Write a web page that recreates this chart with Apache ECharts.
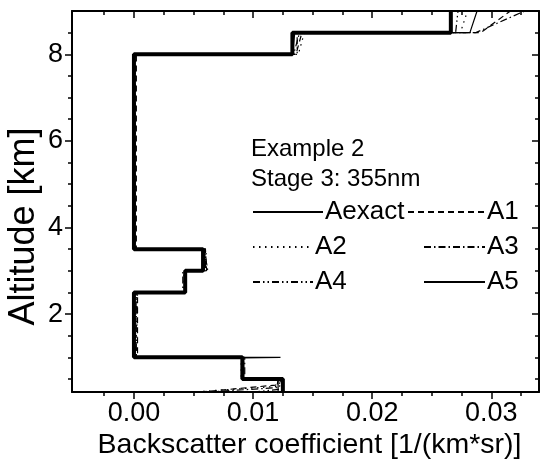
<!DOCTYPE html>
<html>
<head>
<meta charset="utf-8">
<script src="https://cdn.jsdelivr.net/npm/echarts@6/dist/echarts.min.js"></script>
<style>
  html, body { margin: 0; padding: 0; background: #fff; }
  #chart { width: 554px; height: 468px; }
</style>
</head>
<body>
<div id="chart"></div>
<script>
// Layer boundaries [km] and exact backscatter per layer [1/(km*sr)]
const layerEdges = [0.2, 0.5, 1.0, 2.5, 3.0, 3.5, 8.0, 8.5, 9.0];
const aexactValues = [0.0125, 0.0091, 0.0, 0.0043, 0.0058, 0.0, 0.0133, 0.0266];

// Retrieved profiles, [backscatter, altitude] pairs
const a1Points = [[0.0056,0.2],[0.0119,0.36],[0.0122,0.5],[0.0092,0.5],[0.0092,1.0],[0.0003,1.0],[0.0003,2.5],[0.0044,2.5],[0.0044,3.0],[0.0061,3.0],[0.0060,3.5],[0.0002,3.5],[0.0002,8.0],[0.0136,8.0],[0.0141,8.5],[0.0291,8.5],[0.0316,9.0]];
const a2Points = [[0.0048,0.2],[0.0121,0.33],[0.0124,0.5],[0.0090,0.5],[0.0090,1.0],[0.0002,1.0],[0.0003,2.5],[0.0042,2.5],[0.0042,3.0],[0.0059,3.0],[0.0061,3.5],[0.0001,3.5],[0.0001,8.0],[0.0138,8.0],[0.0143,8.5],[0.0274,8.5],[0.0280,9.0]];
const a3Points = [[0.0062,0.2],[0.0120,0.3],[0.0121,0.5],[0.0093,0.5],[0.0093,1.0],[0.0001,1.0],[0.0002,2.5],[0.0043,2.5],[0.0043,3.0],[0.0062,3.0],[0.0059,3.5],[0.0,3.5],[0.0,8.0],[0.0134,8.0],[0.0139,8.5],[0.0287,8.5],[0.0328,9.0]];
const a4Points = [[0.0100,0.2],[0.0122,0.26],[0.0123,0.5],[0.0091,0.5],[0.0091,1.0],[0.0002,1.0],[0.0002,2.5],[0.0041,2.5],[0.0041,3.0],[0.0060,3.0],[0.0060,3.5],[0.0001,3.5],[0.0001,8.0],[0.0137,8.0],[0.0137,8.5],[0.0270,8.5],[0.0272,9.0]];
const a5Points = [[0.0121,0.2],[0.0121,0.5],[0.0092,0.5],[0.0092,0.99],[0.0123,1.0],[0.0,1.0],[0.0,2.5],[0.0043,2.5],[0.0043,3.0],[0.0058,3.0],[0.0058,3.5],[0.0,3.5],[0.0,8.0],[0.0133,8.0],[0.0135,8.5],[0.0282,8.5],[0.0288,9.0]];

// Axis ranges and ticks
const xRange = [-0.0052, 0.034];
const yRange = [0.2, 9.0];
const xMajorTicks = [0.0, 0.01, 0.02, 0.03];
const xMinorTicks = [-0.0025, 0.0025, 0.005, 0.0075, 0.0125, 0.015, 0.0175, 0.0225, 0.025, 0.0275, 0.0325];
const yMajorTicks = [2, 4, 6, 8];
const yMinorTicks = [0.5, 1, 1.5, 2.5, 3, 3.5, 4.5, 5, 5.5, 6.5, 7, 7.5, 8.5];

const FONT = '"Liberation Sans", Arial, Helvetica, sans-serif';
const INK = '#000';

function stepProfile(edges, values) {
  const pts = [];
  for (let i = 0; i < values.length; i++) {
    pts.push([values[i], edges[i]], [values[i], edges[i + 1]]);
  }
  return pts;
}

function xAxisDef(position, ticks, len, inside, withLine, main) {
  return {
    type: 'value', min: xRange[0], max: xRange[1], position: position,
    axisLine: { show: withLine, onZero: false, lineStyle: { color: INK, width: 2 } },
    splitLine: { show: false },
    axisTick: { show: true, inside: inside, length: len, customValues: ticks, lineStyle: { color: INK, width: 1.5 } },
    axisLabel: main ? { show: true, customValues: ticks, formatter: v => v.toFixed(2), fontSize: 27, color: INK, fontFamily: FONT, margin: 8 } : { show: false },
    name: main ? 'Backscatter coefficient [1/(km*sr)]' : '',
    nameLocation: 'middle', nameGap: 39, nameMoveOverlap: false,
    nameTextStyle: { fontSize: 28.5, color: INK, fontFamily: FONT, padding: [0, 0, 0, 8] }
  };
}

function yAxisDef(position, ticks, len, inside, withLine, main) {
  return {
    type: 'value', min: yRange[0], max: yRange[1], position: position,
    axisLine: { show: withLine, onZero: false, lineStyle: { color: INK, width: 2 } },
    splitLine: { show: false },
    axisTick: { show: true, inside: inside, length: len, customValues: ticks, lineStyle: { color: INK, width: 1.5 } },
    axisLabel: main ? { show: true, customValues: ticks, fontSize: 27, color: INK, fontFamily: FONT, margin: 9 } : { show: false },
    name: main ? 'Altitude [km]' : '',
    nameLocation: 'middle', nameGap: 30, nameMoveOverlap: false,
    nameTextStyle: { fontSize: 36, color: INK, fontFamily: FONT, padding: [0, 50, 0, 0] }
  };
}

const series = [
  { name: 'Aexact', data: stepProfile(layerEdges, aexactValues), lineStyle: { width: 4, type: 'solid' } },
  { name: 'A1', data: a1Points, lineStyle: { width: 1.2, type: [6, 4] } },
  { name: 'A2', data: a2Points, lineStyle: { width: 1.2, type: [1.5, 4.5] } },
  { name: 'A3', data: a3Points, lineStyle: { width: 1.2, type: [7, 3, 1.5, 3] } },
  { name: 'A4', data: a4Points, lineStyle: { width: 1.2, type: [7, 3, 1.5, 3, 1.5, 3] } },
  { name: 'A5', data: a5Points, lineStyle: { width: 1.2, type: 'solid' } }
].map(s => Object.assign({
  type: 'line', symbol: 'none', showSymbol: false, smooth: false,
  color: INK, animation: false, silent: true, clip: true
}, s, { lineStyle: Object.assign({ color: INK }, s.lineStyle) }));

// Legend entries: name, left, top, icon length
const legendLayout = [
  ['Aexact', 252, 199, 70],
  ['A1', 407, 199, 77],
  ['A2', 252, 234, 60],
  ['A3', 423, 234, 61],
  ['A4', 252, 269, 60],
  ['A5', 423, 269, 61]
];

const option = {
  backgroundColor: '#fff',
  animation: false,
  grid: { left: 72, right: 15, top: 11, bottom: 76, containLabel: false, outerBoundsMode: 'none' },
  title: [
    { text: 'Example 2', left: 251, top: 137, padding: 0, textStyle: { fontSize: 24, fontWeight: 'normal', color: INK, fontFamily: FONT } },
    { text: 'Stage 3: 355nm', left: 251, top: 167, padding: 0, textStyle: { fontSize: 24, fontWeight: 'normal', color: INK, fontFamily: FONT } }
  ],
  legend: legendLayout.map(([name, left, top, w]) => ({
    data: [name], left: left, top: top, padding: 0, itemWidth: w, itemHeight: 24,
    selectedMode: false, orient: 'horizontal',
    itemStyle: { color: 'rgba(0,0,0,0)', borderColor: 'rgba(0,0,0,0)', borderWidth: 0 },
    textStyle: { fontSize: 26, color: INK, fontFamily: FONT, padding: [0, 0, 0, -3] }
  })),
  xAxis: [
    xAxisDef('bottom', xMajorTicks, 7, false, true, true),
    xAxisDef('bottom', xMinorTicks, 4, false, false, false),
    xAxisDef('top', xMajorTicks, 7, true, true, false),
    xAxisDef('top', xMinorTicks, 4, true, false, false)
  ],
  yAxis: [
    yAxisDef('left', yMajorTicks, 7, false, true, true),
    yAxisDef('left', yMinorTicks, 4, false, false, false),
    yAxisDef('right', yMajorTicks, 7, true, true, false),
    yAxisDef('right', yMinorTicks, 4, true, false, false)
  ],
  series: series
};

const chart = echarts.init(document.getElementById('chart'), null, { renderer: 'canvas' });
chart.setOption(option);
</script>
</body>
</html>
